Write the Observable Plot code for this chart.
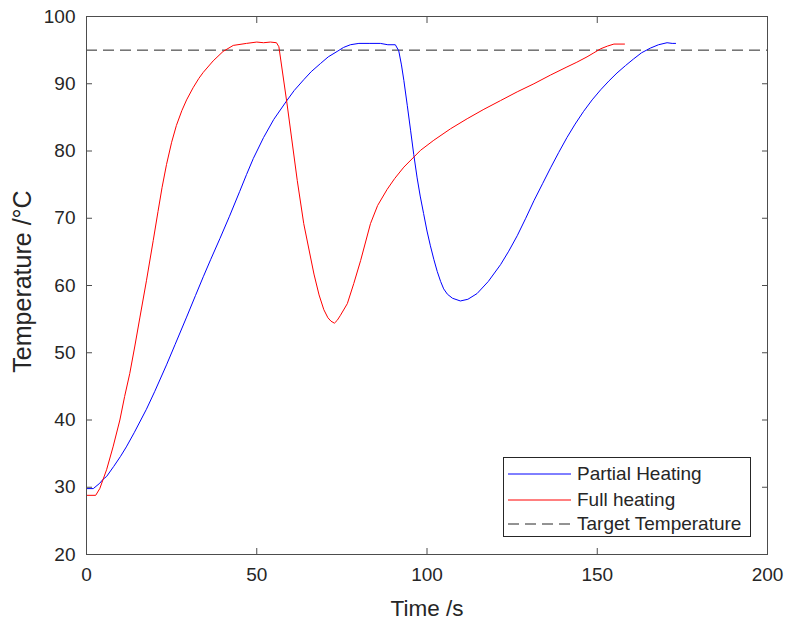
<!DOCTYPE html>
<html><head><meta charset="utf-8">
<script src="https://cdn.jsdelivr.net/npm/d3@7"></script>
<script src="https://cdn.jsdelivr.net/npm/@observablehq/plot@0.6"></script>
<style>
body{margin:0;background:#fff;}
#wrap{position:relative;width:787px;height:621px;font-family:"Liberation Sans",Arial,sans-serif;color:#262626;}
#legend{position:absolute;left:503px;top:457px;width:248px;height:80px;border:1px solid #262626;background:#fff;box-sizing:border-box;}
#legend .row{position:absolute;left:0;height:24px;display:flex;align-items:center;font-size:19px;white-space:nowrap;}
#legend svg{margin-left:4px;margin-right:5px;}
</style></head><body><div id="wrap"></div>
<script>
const partialTime = [0, 2, 3.9, 4.9, 5.9, 8, 10, 11.7, 14, 17.6, 20, 23.5, 26, 29.4, 32, 34.3, 36.5, 39.2, 42, 45, 47, 49, 52, 55, 58.7, 61, 63.8, 66, 68.7, 71, 73.6, 75.5, 77.5, 80, 83, 86.3, 88.5, 90.7, 91.7, 92.5, 93.2, 94.2, 95.2, 96.1, 97.1, 98, 99, 100, 101, 102, 103, 104, 104.9, 106, 107.5, 109.8, 112, 114.7, 118, 121.6, 124, 126.5, 129, 131.4, 134, 136.3, 138.7, 141.1, 143.5, 146, 148.5, 151, 153.4, 155.8, 158.3, 160.7, 163, 165.6, 168, 170.5, 172, 173];
const partialTemp = [29.8, 29.8, 30.6, 31.2, 31.6, 33.1, 34.6, 36.0, 38.1, 41.6, 44.2, 48.2, 51.2, 55.3, 58.5, 61.3, 63.9, 67.0, 70.3, 74.0, 76.5, 78.9, 82.0, 84.7, 87.4, 89.0, 90.6, 91.8, 93.0, 94.0, 94.8, 95.4, 95.8, 96.0, 96.0, 96.0, 95.8, 95.8, 94.9, 92.8, 90.5, 86.8, 83.0, 79.5, 76.0, 73.3, 70.7, 68.1, 65.9, 63.9, 62.1, 60.6, 59.5, 58.7, 58.1, 57.7, 57.95, 58.8, 60.6, 63.1, 65.1, 67.4, 70.0, 72.6, 75.2, 77.5, 79.8, 82.0, 84.0, 85.9, 87.6, 89.1, 90.4, 91.6, 92.7, 93.7, 94.6, 95.3, 95.8, 96.1, 96.0, 96.0];
const fullTime = [0, 2.7, 3.9, 4.9, 5.9, 7.8, 9.8, 11.2, 12.7, 14.2, 15.7, 17.6, 19.6, 21, 22.2, 23.5, 25, 26.4, 28, 29.4, 31.3, 33, 34.3, 37.2, 40.1, 43.1, 47, 50, 52, 54, 55.8, 56.5, 58.9, 61.9, 63.8, 66.8, 68.3, 69.7, 70.9, 71.8, 72.8, 73.6, 74.5, 76.6, 78.5, 80.5, 83.4, 85.5, 88.3, 90.5, 93.2, 98.1, 102, 106.9, 111.8, 116.7, 121.6, 126.5, 131.4, 136.3, 141.1, 144, 147, 149, 151, 153, 154.9, 158];
const fullTemp = [28.8, 28.8, 29.8, 31.2, 32.6, 36, 40, 43.5, 46.9, 51, 55.3, 60.7, 66.7, 71.0, 74.6, 78.0, 81.3, 83.8, 86.0, 87.6, 89.4, 90.8, 91.7, 93.4, 94.8, 95.7, 96.0, 96.2, 96.1, 96.2, 96.1, 95.5, 87.0, 75.6, 69.2, 61.7, 58.6, 56.4, 55.2, 54.7, 54.4, 54.8, 55.5, 57.3, 60.3, 63.7, 69.2, 71.9, 74.3, 75.9, 77.6, 80.1, 81.6, 83.3, 84.8, 86.2, 87.5, 88.8, 90, 91.3, 92.5, 93.2, 94, 94.6, 95.2, 95.6, 95.9, 95.9];
const targetTemp = [95];
const xTicks = [0, 50, 100, 150, 200];
const yTicks = [20, 30, 40, 50, 60, 70, 80, 90, 100];
const seriesNames = ["Partial Heating", "Full heating", "Target Temperature"];
const seriesColors = ["#0000ff", "#ff0000", "#262626"];
const seriesDash = [null, null, "11,6"];
const xLabel = "Time /s";
const yLabel = "Temperature /°C";

const partial = partialTime.map((t, i) => ({t, T: partialTemp[i]}));
const full = fullTime.map((t, i) => ({t, T: fullTemp[i]}));

const axisColor = "#4d4d4d";
const chart = Plot.plot({
  width: 787, height: 621,
  marginLeft: 86, marginRight: 20, marginTop: 16, marginBottom: 67,
  x: {domain: [0, 200]},
  y: {domain: [20, 100]},
  style: {fontFamily: '"Liberation Sans", Arial, sans-serif', fontSize: "19px", color: "#262626", background: "white", overflow: "visible"},
  marks: [
    Plot.ruleY(targetTemp, {stroke: seriesColors[2], strokeDasharray: seriesDash[2], strokeWidth: 1}),
    Plot.line(partial, {x: "t", y: "T", stroke: seriesColors[0], strokeWidth: 1}),
    Plot.line(full, {x: "t", y: "T", stroke: seriesColors[1], strokeWidth: 1}),
    Plot.frame({stroke: axisColor}),
    Plot.axisX({ticks: xTicks, tickSize: -6, tickPadding: 19, label: null, stroke: axisColor, fill: "#262626"}),
    Plot.axisX({ticks: xTicks, anchor: "top", tickSize: -6, tickFormat: () => "", label: null, stroke: axisColor}),
    Plot.axisY({ticks: yTicks, tickSize: -6, tickPadding: 17, label: null, stroke: axisColor, fill: "#262626"}),
    Plot.axisY({ticks: yTicks, anchor: "right", tickSize: -6, tickFormat: () => "", label: null, stroke: axisColor}),
    Plot.text([xLabel], {frameAnchor: "bottom", lineAnchor: "middle", dy: 54, fontSize: 22.5, fill: "#262626"}),
    Plot.text([yLabel], {frameAnchor: "left", textAnchor: "middle", lineAnchor: "middle", dx: -64, dy: -4, rotate: -90, fontSize: 25, fill: "#262626"})
  ]
});
const wrap = document.getElementById("wrap");
wrap.appendChild(chart);

const legend = document.createElement("div");
legend.id = "legend";
const rowTops = [4, 30, 54];
seriesNames.forEach((name, i) => {
  const row = document.createElement("div");
  row.className = "row";
  row.style.top = rowTops[i] + "px";
  row.innerHTML = `<svg width="64" height="10"><line x1="0" x2="63" y1="5" y2="5" stroke="${seriesColors[i]}" stroke-width="1" ${seriesDash[i] ? `stroke-dasharray="${seriesDash[i]}"` : ""}/></svg><span>${name}</span>`;
  legend.appendChild(row);
});
wrap.appendChild(legend);
</script>
</body></html>
